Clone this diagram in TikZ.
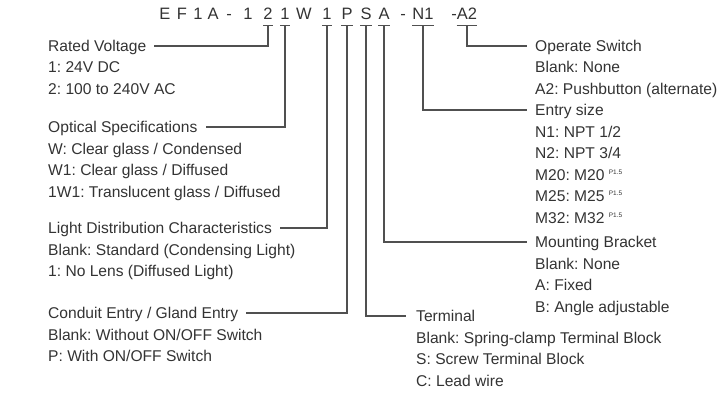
\documentclass[tikz,border=0pt]{standalone}
\usepackage{fontspec}
\setmainfont{Liberation Sans}
\usepackage{tikz}
\usetikzlibrary{positioning}

\definecolor{txtgray}{HTML}{333333}
\definecolor{linegray}{HTML}{505050}
\newcommand\pitchmark{\ \raisebox{6pt}{\fontsize{6.5}{7}\selectfont P1.5}}
\frenchspacing

\begin{document}
\begin{tikzpicture}
	[x=1pt, y=-1pt,
	code char/.style={inner xsep=0, inner ysep=5pt, text depth=0pt, anchor=base,
		font=\fontsize{16.5}{18}\selectfont, text=txtgray},
	head/.style={inner sep=0, anchor=base west, text height=11pt, text depth=0pt,
		font=\fontsize{15.6}{18}\selectfont, text=txtgray},
	item/.style={inner sep=0, anchor=base west,
		font=\fontsize{15.6}{18}\selectfont, text=txtgray},
	tick/.style={draw=linegray, line width=1.1pt},
	lead/.style={tick, shorten >=#1},
	lead/.default=8pt]
	
	\useasboundingbox (0,0) rectangle (722,393);
	
	\def \dy {21.5};
	
	% model code
	\foreach \ch/\x/\nm in {E/165/cE, F/182/cF, 1/198/cA, A/213/cB, -/229/cC, 1/248/cD,
		2/268/volt, 1/285/optic, W/304/cG, 1/327/lens, P/347/entry, S/366/term,
		A/384/brkt, -/403/cH, N1/423/size, -/454/cI, A2/467/oper}
		\node[code char] (\nm) at (\x,20) {\ch};
	\foreach \nm in {volt, optic, lens, entry, term, brkt, size, oper}
		\draw[tick] (\nm.south west) -- (\nm.south east);
	
	% left column
	\node[head] (rv) at (48,51.5) {Rated Voltage};
	\foreach \t [count=\i] in {1: 24V DC, 2: 100 to 240V AC}
		\node[item] (rv\i) at (48,51.5+\dy*\i) {\t};
	
	\node[head] (osp) at (48,132.5) {Optical Specifications};
	\foreach \t [count=\i] in {W: Clear glass / Condensed, W1: Clear glass / Diffused,
		1W1: Translucent glass / Diffused}
		\node[item] (osp\i) at (48,132.5+\dy*\i) {\t};
	
	\node[head] (ldc) at (48,233.5) {Light Distribution Characteristics};
	\foreach \t [count=\i] in {Blank: Standard (Condensing Light), 1: No Lens (Diffused Light)}
		\node[item] (ldc\i) at (48,233.5+\dy*\i) {\t};
	
	\node[head] (cge) at (48,318.5) {Conduit Entry / Gland Entry};
	\foreach \t [count=\i] in {Blank: Without ON/OFF Switch, P: With ON/OFF Switch}
		\node[item] (cge\i) at (48,318.5+\dy*\i) {\t};
	
	% right column
	\node[head] (opsw) at (535,51.5) {Operate Switch};
	\foreach \t [count=\i] in {Blank: None, A2: Pushbutton (alternate)}
		\node[item] (opsw\i) at (535,51.5+\dy*\i) {\t};
	
	\node[head] (esz) at (535,115.5) {Entry size};
	\foreach \t [count=\i] in {N1: NPT 1/2, N2: NPT 3/4, M20: M20\pitchmark,
		M25: M25\pitchmark, M32: M32\pitchmark}
		\node[item] (esz\i) at (535,115.5+\dy*\i) {\t};
	
	\node[head] (mbr) at (535,247.5) {Mounting Bracket};
	\foreach \t [count=\i] in {Blank: None, A: Fixed, B: Angle adjustable}
		\node[item] (mbr\i) at (535,247.5+\dy*\i) {\t};
	
	\node[head] (tml) at (416,321.5) {Terminal};
	\foreach \t [count=\i] in {Blank: Spring-clamp Terminal Block, S: Screw Terminal Block,
		C: Lead wire}
		\node[item] (tml\i) at (416,321.5+\dy*\i) {\t};
	
	% leaders
	\draw[lead] (volt.south) |- (rv.east);
	\draw[lead] (optic.south) |- (osp.east);
	\draw[lead] (lens.south) |- (ldc.east);
	\draw[lead] (entry.south) |- (cge.east);
	\draw[lead=10pt] (term.south) |- (tml.west);
	\draw[lead] (brkt.south) |- (mbr.west);
	\draw[lead] (size.south) |- (esz.west);
	\draw[lead] (oper.south) |- (opsw.west);
	
\end{tikzpicture}
\end{document}
